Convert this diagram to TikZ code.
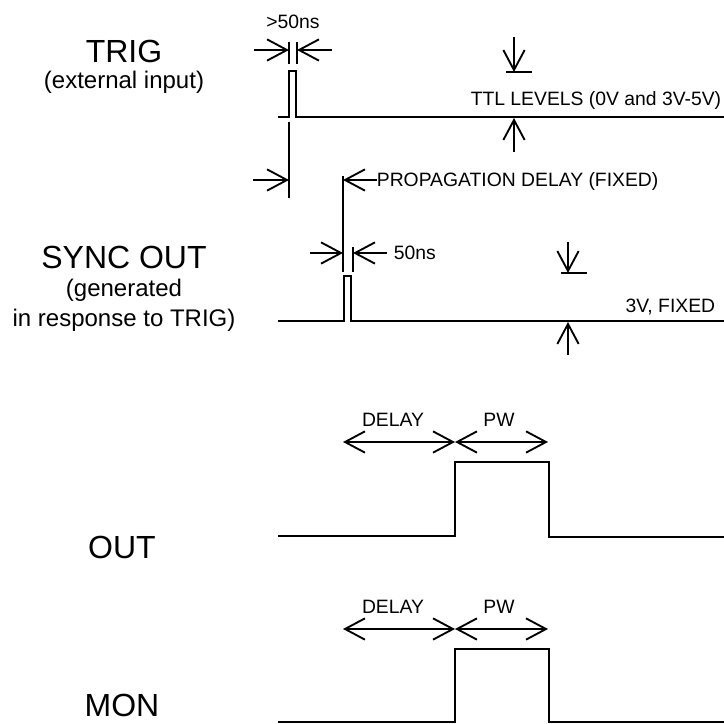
\documentclass[tikz,border=0pt]{standalone}
\usepackage{fontspec}
\setmainfont{Liberation Sans}
\usepackage{tikz}
\usetikzlibrary{arrows.meta}
\usetikzlibrary{positioning}
\tikzset{every picture/.style={line width=1.3pt}}
\tikzset{
  wave/.style={line width=1.9pt, line join=miter},
  dim/.style={line width=1.4pt, -{Straight Barb[length=15pt,width=16pt,line width=1.4pt]}},
  span/.style={line width=1.4pt, {Straight Barb[length=15pt,width=16pt,line width=1.4pt]}-{Straight Barb[length=15pt,width=16pt,line width=1.4pt]}},
  ext/.style={line width=1.4pt},
  biglbl/.style={font=\fontsize{24}{28}\selectfont, inner sep=0pt},
  sublbl/.style={font=\fontsize{18}{22.5}\selectfont, inner sep=0pt, align=center},
  dimlbl/.style={font=\fontsize{14.5}{17}\selectfont, inner sep=0pt}
}

\begin{document}
\begin{tikzpicture}[x=0.75pt,y=0.75pt,yscale=-1,xscale=1]
\useasboundingbox (0,0) rectangle (724,724);

% Signal names
\node [biglbl] (trig) at (124,51) {TRIG};
\node [sublbl] (trigsub) at (124,82) {(external input)};
\node [biglbl] (sync) at (124,257) {SYNC OUT};
\node [sublbl] (syncsub) at (124,305) {(generated\\in response to TRIG)};
\node [biglbl, anchor=base] (out) at (122,558) {OUT};
\node [biglbl, anchor=base] (mon) at (122,716) {MON};

%TRIG waveform
\draw [wave] (278,117) -- (289,117) -- (289,71) -- (296,71) -- (296,117) -- (724,117);
%>50ns width
\draw [ext] (289,42) -- (289,64);
\draw [ext] (297,42) -- (297,64);
\draw [dim] (254,50) -- (289,50);
\draw [dim] (332,50) -- (297,50);
\node [dimlbl] (wtrig) at (293,22) {>50ns};
%TTL levels
\draw [dim] (514,37) -- (514,72);
\draw [ext] (506,72) -- (532,72);
\draw [dim] (514,152) -- (514,118);
\node [dimlbl, anchor=base east] (ttl) at (722,105) {TTL LEVELS (0V and 3V-5V)};

%Propagation delay
\draw [ext] (289,122) -- (289,198);
\draw [dim] (253,180) -- (289,180);
\draw [ext] (343,176) -- (343,272);
\draw [dim] (377,180) -- (343,180);
\node [dimlbl, anchor=west] (prop) at (376,181) {PROPAGATION DELAY (FIXED)};

%SYNC OUT waveform
\draw [wave] (278,321) -- (344,321) -- (344,276) -- (351,276) -- (351,321) -- (724,321);
%50ns width
\draw [ext] (353,247) -- (353,272);
\draw [dim] (310,253) -- (343,253);
\draw [dim] (387,253) -- (353,253);
\node [dimlbl, anchor=west] (wsync) at (393,253) {50ns};
%3V fixed
\draw [dim] (568,242) -- (568,273);
\draw [ext] (561,273) -- (587,273);
\draw [dim] (568,355) -- (568,322);
\node [dimlbl, anchor=base east] (lvl) at (716,312) {3V, FIXED};

%OUT waveform
\draw [wave] (278,536) -- (455,536) -- (455,462) -- (549,462) -- (549,537) -- (724,537);
\draw [span] (343,442) -- (455,442);
\draw [span] (455,442) -- (548,442);
\node [dimlbl] (odelay) at (393,420) {DELAY};
\node [dimlbl] (opw) at (499,420) {PW};

%MON waveform
\draw [wave] (278,722) -- (455,722) -- (455,649) -- (549,649) -- (549,722) -- (724,722);
\draw [span] (343,629) -- (455,629);
\draw [span] (455,629) -- (548,629);
\node [dimlbl] (mdelay) at (393,607) {DELAY};
\node [dimlbl] (mpw) at (499,607) {PW};

\end{tikzpicture}
\end{document}
